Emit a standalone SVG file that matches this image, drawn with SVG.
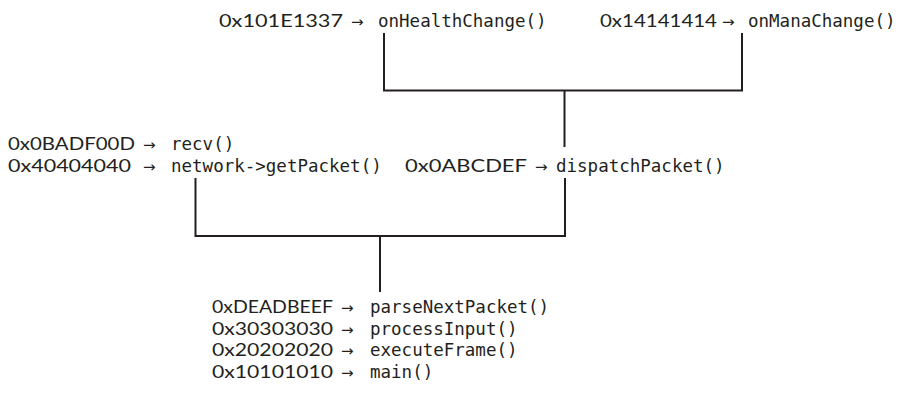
<svg xmlns="http://www.w3.org/2000/svg" width="906" height="393" viewBox="0 0 906 393">
<style>
  .lbl { fill: #231f20; }
  .addr { font-family: Lato, "Open Sans", sans-serif; font-size: 18px; }
  .arr { font-family: "DejaVu Sans", sans-serif; font-size: 15px; }
  .fn { font-family: "DejaVu Sans Mono", "Liberation Mono", monospace; font-size: 17.5px; }
  .wire { stroke: #231f20; stroke-width: 2; fill: none; }
</style>
<rect width="906" height="393" fill="#ffffff"/>

<g id="connectors">
  <path class="wire" d="M384,33 V90.5 H742 V33 M564.5,90.5 V147"/>
  <path class="wire" d="M195.5,178 V236 H565 V178 M380,236 V292"/>
</g>

<g id="node-onHealthChange" class="lbl">
  <text y="27"><tspan class="addr" x="219" textLength="124" lengthAdjust="spacingAndGlyphs">0x101E1337</tspan><tspan class="arr" x="351">→</tspan><tspan class="fn" x="378">onHealthChange()</tspan></text>
</g>
<g id="node-onManaChange" class="lbl">
  <text y="27"><tspan class="addr" x="600" textLength="117" lengthAdjust="spacingAndGlyphs">0x14141414</tspan><tspan class="arr" x="722">→</tspan><tspan class="fn" x="748">onManaChange()</tspan></text>
</g>
<g id="node-getPacket" class="lbl">
  <text y="150"><tspan class="addr" x="8" textLength="127" lengthAdjust="spacingAndGlyphs">0x0BADF00D</tspan><tspan class="arr" x="143">→</tspan><tspan class="fn" x="171">recv()</tspan></text>
  <text y="172"><tspan class="addr" x="8" textLength="123" lengthAdjust="spacingAndGlyphs">0x40404040</tspan><tspan class="arr" x="143">→</tspan><tspan class="fn" x="171">network-&gt;getPacket()</tspan></text>
</g>
<g id="node-dispatchPacket" class="lbl">
  <text y="172"><tspan class="addr" x="405" textLength="122" lengthAdjust="spacingAndGlyphs">0x0ABCDEF</tspan><tspan class="arr" x="535">→</tspan><tspan class="fn" x="556">dispatchPacket()</tspan></text>
</g>
<g id="node-parseNextPacket" class="lbl">
  <text y="313"><tspan class="addr" x="212" textLength="121" lengthAdjust="spacingAndGlyphs">0xDEADBEEF</tspan><tspan class="arr" x="341">→</tspan><tspan class="fn" x="370">parseNextPacket()</tspan></text>
  <text y="334.7"><tspan class="addr" x="212" textLength="121" lengthAdjust="spacingAndGlyphs">0x30303030</tspan><tspan class="arr" x="341">→</tspan><tspan class="fn" x="370">processInput()</tspan></text>
  <text y="356.4"><tspan class="addr" x="212" textLength="121" lengthAdjust="spacingAndGlyphs">0x20202020</tspan><tspan class="arr" x="341">→</tspan><tspan class="fn" x="370">executeFrame()</tspan></text>
  <text y="378.1"><tspan class="addr" x="212" textLength="121" lengthAdjust="spacingAndGlyphs">0x10101010</tspan><tspan class="arr" x="341">→</tspan><tspan class="fn" x="370">main()</tspan></text>
</g>
</svg>
